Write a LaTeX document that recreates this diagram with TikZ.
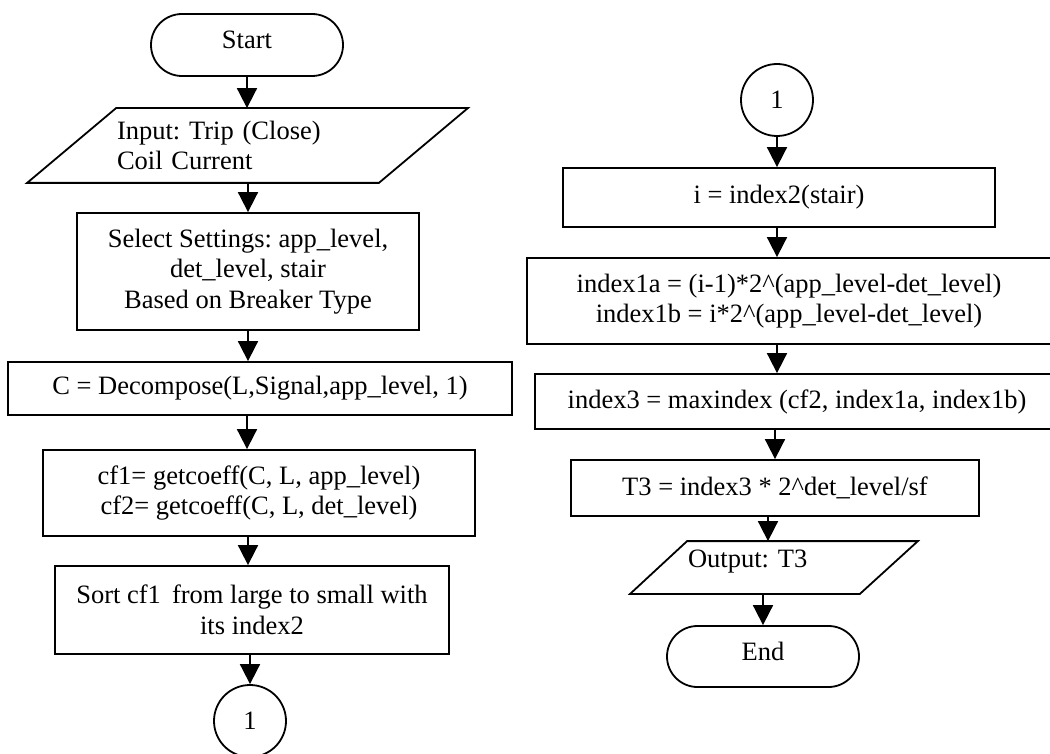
\documentclass[tikz,border=0pt]{standalone}
\usepackage{fontspec}
\setmainfont{Liberation Serif}
\usetikzlibrary{shapes.misc,arrows.meta}
\frenchspacing
\begin{document}
\begin{tikzpicture}[x=1pt,y=-1pt, line width=1.8pt,
  font=\fontsize{26.5}{30.5}\selectfont\frenchspacing,
  box/.style={draw, rectangle, inner sep=0pt, align=center},
  term/.style={draw, rounded rectangle, minimum width=192pt, minimum height=62pt, inner sep=0pt, text depth=11pt},
  conn/.style={draw, circle, minimum size=72pt, inner sep=0pt},
  arr/.style={-{Triangle[length=20pt,width=20pt]}},
  ioshape/.style={inner sep=0pt, align=left}]
\useasboundingbox (0,0) rectangle (1050,754);

% left column
\node[term] (start) at (247,45) {Start};
\node[ioshape, text width=300pt, minimum height=73pt] (input) at (267,145.5) {Input: Trip (Close)\\Coil Current};
\draw (input.north west) -- ([xshift=50pt]input.north east) -- ([xshift=-39pt]input.south east) -- ([xshift=-89pt]input.south west) -- cycle;
\node[box, minimum width=342pt, minimum height=117pt] (sel) at (248,271.5) {Select Settings: app\_level,\\det\_level, stair\\Based on Breaker Type};
\node[box, minimum width=504pt, minimum height=53pt] (dec) at (260,388.5) {C = Decompose(L,Signal,app\_level, 1)};
\node[box, minimum width=432pt, minimum height=86pt] (cf) at (259,493) {cf1= getcoeff(C, L, app\_level)\\cf2= getcoeff(C, L, det\_level)};
\node[box, minimum width=394pt, minimum height=88pt] (sort) at (252,610) {Sort cf1\, from large to small with\\its index2};
\node[conn] (c1) at (250,721) {1};

% right column
\node[conn] (c2) at (777,100) {1};
\node[box, minimum width=432pt, minimum height=59pt] (idx) at (779,197.5) {i = index2(stair)};
\node[box, minimum width=524pt, minimum height=86pt] (ia) at (789,301) {index1a = (i-1)*2\textasciicircum(app\_level-det\_level)\\index1b = i*2\textasciicircum(app\_level-det\_level)};
\node[box, minimum width=524pt, minimum height=55pt] (i3) at (797,401.5) {index3 = maxindex (cf2, index1a, index1b)};
\node[box, minimum width=408pt, minimum height=56pt] (t3) at (775,488) {T3 = index3 * 2\textasciicircum det\_level/sf};
\node[ioshape, text width=229pt, minimum height=51pt, text depth=17pt] (out) at (802.5,567.5) {Output: T3};
\draw (out.north west) -- (out.north east) -- ([xshift=-58pt]out.south east) -- ([xshift=-57pt]out.south west) -- cycle;
\node[term, minimum height=61pt] (end) at (763,656.5) {End};

% connectors
\draw[arr] (start.south) -- (start.south |- input.north);
\draw[arr] (sel.north |- input.south) -- (sel.north);
\draw[arr] (sel.south) -- (sel.south |- dec.north);
\draw[arr] (start.south |- dec.south) -- (start.south |- cf.north);
\draw[arr] (sel.south |- cf.south) -- (sel.south |- sort.north);
\draw[arr] (c1.north |- sort.south) -- (c1.north);
\draw[arr] (c2.south) -- (c2.south |- idx.north);
\draw[arr] (c2.south |- idx.south) -- (c2.south |- ia.north);
\draw[arr] (c2.south |- ia.south) -- (c2.south |- i3.north);
\draw[arr] (t3.north |- i3.south) -- (t3.north);
\draw[arr] ([xshift=-7pt]t3.south) -- ([xshift=-7pt]t3.south |- out.north);
\draw[arr] (end.north |- out.south) -- (end.north);
\end{tikzpicture}
\end{document}
